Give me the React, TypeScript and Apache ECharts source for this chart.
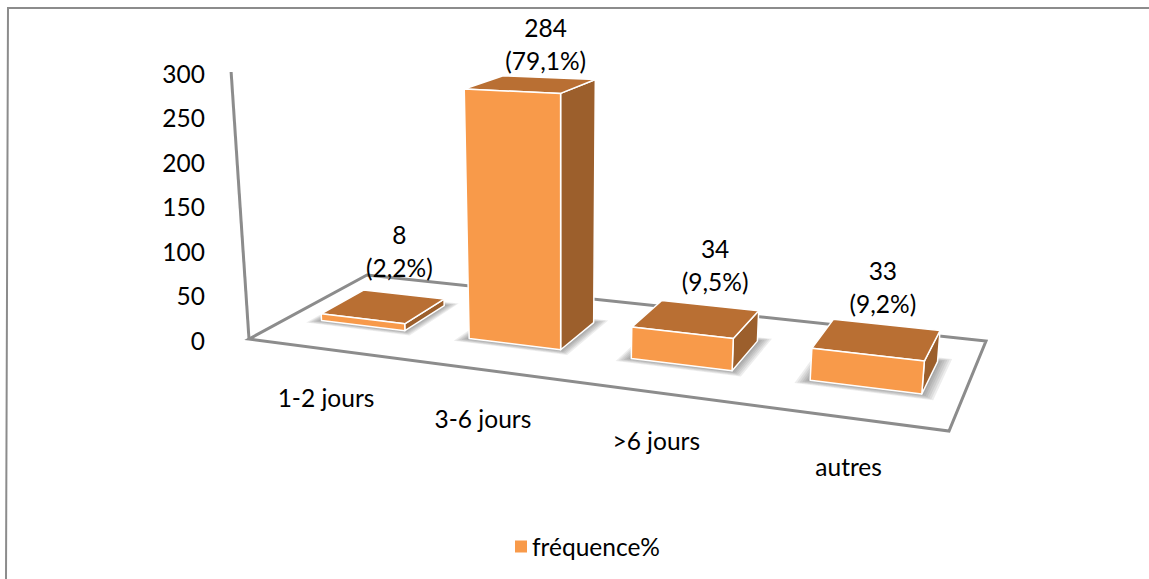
import React, { useEffect, useRef } from "react";
import * as echarts from "echarts";

const categories = ["1-2 jours", "3-6 jours", ">6 jours", "autres"];
const counts = [8, 284, 34, 33];
const percents = ["2,2", "79,1", "9,5", "9,2"];
const yTicks = { min: 0, max: 300, step: 50 };
const seriesName = "fréquence%";

const FONT = "Lato";
const FS = 24.5;
const GRID = { left: 249, width: 700, top: 73, bottom: 340 };
const FLOOR = { A: [249, 339], B: [949, 431], C: [986, 341], D: [367, 275] };
const VP = [562, 5015];
const COLORS = { front: "#F89A4A", top: "#B96F33", side: "#9C5F2C", edge: "#FFFFFF", axis: "#8C8C8C" };
const LABEL_SHIFT = [[16, -55], [15, -40], [19, -53.5], [6, -52.5]];
const BAR = { half: 0.072, shift: 0.003, v0: 0.32, v1: 0.69, hScale: 0.976 };
const SHADOW_LAYERS = [6, 5, 4, 3, 2, 1];

// Homography of the floor: (u along the category axis, v in depth) -> screen
const H = (() => {
  const { A, B, C, D } = FLOOR;
  const dx1 = B[0] - C[0], dx2 = D[0] - C[0], sx = A[0] - B[0] + C[0] - D[0];
  const dy1 = B[1] - C[1], dy2 = D[1] - C[1], sy = A[1] - B[1] + C[1] - D[1];
  const den = dx1 * dy2 - dx2 * dy1;
  const g = (sx * dy2 - dx2 * sy) / den;
  const h = (dx1 * sy - sx * dy1) / den;
  return {
    g, h,
    a: B[0] - A[0] + g * B[0], b: D[0] - A[0] + h * D[0], c: A[0],
    d: B[1] - A[1] + g * B[1], e: D[1] - A[1] + h * D[1], f: A[1],
  };
})();
const W = (u: number, v: number) => H.g * u + H.h * v + 1;
const floorPt = (u: number, v: number) => {
  const w = W(u, v);
  return [(H.a * u + H.b * v + H.c) / w, (H.d * u + H.e * v + H.f) / w];
};
const lift = (p: number[], px: number) => {
  const t = px / (VP[1] - p[1]);
  return [p[0] + (p[0] - VP[0]) * t, p[1] - px];
};

function renderFloor() {
  const { A, B, C, D } = FLOOR;
  const axisHeight = GRID.bottom - GRID.top;
  return {
    type: "group",
    children: [
      {
        type: "polygon",
        shape: { points: [A, B, C, D] },
        style: { fill: "#FFFFFF", stroke: COLORS.axis, lineWidth: 3, lineJoin: "miter" },
      },
      {
        type: "line",
        shape: { x1: A[0], y1: A[1], x2: lift(A, axisHeight)[0], y2: lift(A, axisHeight)[1] },
        style: { stroke: COLORS.axis, lineWidth: 3 },
      },
    ],
  };
}

function renderBar(params: any, api: any) {
  const i = api.value(0);
  const val = api.value(1);
  const base = api.coord([i, 0]);
  const top = api.coord([i, val]);
  const px = base[1] - top[1];
  const u = (base[0] - GRID.left) / GRID.width + BAR.shift;
  const u0 = u - BAR.half, u1 = u + BAR.half;
  const up = (uu: number, vv: number) => {
    const p = floorPt(uu, vv);
    return lift(p, (px * BAR.hScale) / W(uu, vv));
  };
  const fl = floorPt(u0, BAR.v0), fr = floorPt(u1, BAR.v0);
  const br = floorPt(u1, BAR.v1), bl = floorPt(u0, BAR.v1);
  const tfl = up(u0, BAR.v0), tfr = up(u1, BAR.v0), tbr = up(u1, BAR.v1), tbl = up(u0, BAR.v1);
  const edge = { stroke: COLORS.edge, lineWidth: 1.5, lineJoin: "round" };
  const tc = up(u, (BAR.v0 + BAR.v1) / 2);
  const s = LABEL_SHIFT[params.dataIndex];
  const catPt = floorPt(u - BAR.shift, 0);
  const shadows = SHADOW_LAYERS.map((k) => {
    const du = 0.0028 * k, dv = 0.008 * k;
    return {
      type: "polygon",
      shape: {
        points: [
          floorPt(u0 - du, BAR.v0 - dv), floorPt(u1 + du, BAR.v0 - dv),
          floorPt(u1 + du, BAR.v1 + dv), floorPt(u0 - du, BAR.v1 + dv),
        ],
      },
      style: { fill: "rgba(60,60,60,0.09)" },
    };
  });
  return {
    type: "group",
    children: [
      ...shadows,
      { type: "polygon", shape: { points: [fr, br, tbr, tfr] }, style: { fill: COLORS.side, ...edge } },
      { type: "polygon", shape: { points: [tfl, tfr, tbr, tbl] }, style: { fill: COLORS.top, ...edge } },
      { type: "polygon", shape: { points: [fl, fr, tfr, tfl] }, style: { fill: COLORS.front, ...edge } },
      {
        type: "text",
        style: {
          text: `${counts[params.dataIndex]}\n(${percents[params.dataIndex]}%)`,
          x: tc[0] + s[0], y: tc[1] + s[1],
          align: "center", verticalAlign: "middle",
          fontFamily: FONT, fontSize: FS, lineHeight: 33, fill: "#000",
        },
      },
      {
        type: "text",
        style: {
          text: categories[params.dataIndex],
          x: catPt[0] + 4, y: catPt[1] + 49,
          align: "center", verticalAlign: "middle",
          fontFamily: FONT, fontSize: FS, fill: "#000",
        },
      },
    ],
  };
}

export default function App() {
  const ref = useRef<HTMLDivElement>(null);
  useEffect(() => {
    const chart = echarts.init(ref.current!, undefined, { renderer: "svg" });
    chart.setOption({
      animation: false,
      backgroundColor: "#FFFFFF",
      grid: { left: GRID.left, width: GRID.width, top: GRID.top, bottom: 579 - GRID.bottom },
      legend: {
        show: true,
        data: [seriesName],
        left: 510,
        top: 529,
        icon: "rect",
        itemWidth: 12,
        itemHeight: 12,
        textStyle: { fontFamily: FONT, fontSize: FS, color: "#000" },
      },
      xAxis: {
        type: "category",
        data: categories,
        axisLine: { show: false },
        axisTick: { show: false },
        axisLabel: { show: false },
      },
      yAxis: {
        type: "value",
        min: yTicks.min,
        max: yTicks.max,
        interval: yTicks.step,
        axisLine: { show: false },
        axisTick: { show: false },
        splitLine: { show: false },
        axisLabel: { margin: 44, fontFamily: FONT, fontSize: FS, color: "#000" },
      },
      graphic: [
        {
          type: "polyline",
          shape: { points: [[1149, 8], [8, 8], [6, 579]] },
          style: { fill: "none", stroke: COLORS.axis, lineWidth: 2 },
        },
      ],
      series: [
        {
          type: "custom",
          name: "plancher",
          silent: true,
          z: 1,
          clip: false,
          data: [[0, 0]],
          encode: { x: 0, y: 1 },
          renderItem: renderFloor,
        },
        {
          type: "custom",
          name: seriesName,
          z: 2,
          clip: false,
          itemStyle: { color: COLORS.front },
          data: counts.map((c, i) => [i, c]),
          encode: { x: 0, y: 1 },
          renderItem: renderBar,
        },
      ],
    });
    return () => chart.dispose();
  }, []);
  return <div ref={ref} style={{ position: "absolute", left: 0, top: 0, width: 1149, height: 579 }} />;
}
